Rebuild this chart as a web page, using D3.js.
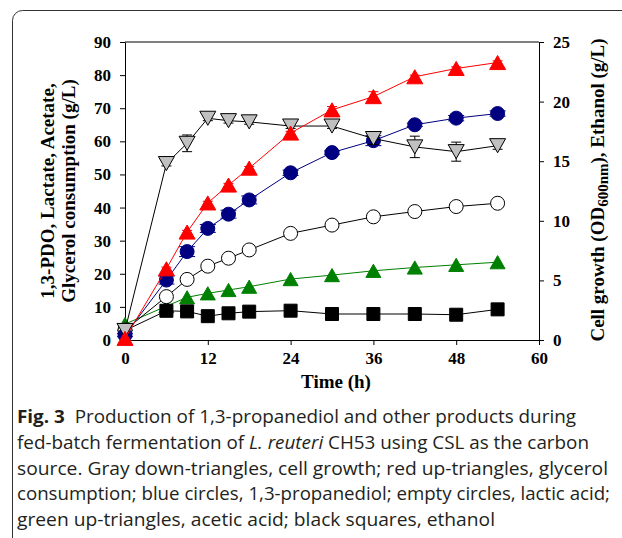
<!DOCTYPE html>
<html>
<head>
<meta charset="utf-8">
<script src="https://cdn.jsdelivr.net/npm/d3@7"></script>
<style>
  body { margin: 0; background: #fff; }
  svg { display: block; }
  .tick text { font-family: "Liberation Serif", "Times New Roman", serif; font-weight: bold; font-size: 17px; fill: #000; }
  .domain, .tick line { stroke: #000; stroke-width: 1; }
</style>
</head>
<body>
<svg id="chart"></svg>
<script>
// sampling times (h)
const times = [0, 6, 9, 12, 15, 18, 24, 30, 36, 42, 48, 54];

// right axis series
const cellGrowth = [0.8, 14.8, 16.5, 18.6, 18.4, 18.3, 17.95, 17.95, 16.9, 16.2, 15.8, 16.3];
const cellGrowthErr = [0, 0.2, 0.7, 0.2, 0.2, 0.2, 0.2, 0.2, 0.5, 0.9, 0.8, 0.3];
const ethanol = [0.8, 2.45, 2.4, 2.0, 2.24, 2.38, 2.46, 2.18, 2.18, 2.18, 2.12, 2.57];

// left axis series
const glycerol = [0.5, 21.5, 32.6, 41.4, 46.8, 51.9, 62.5, 69.5, 73.5, 79.5, 82, 83.8];
const glycerolErr = [0, 0.5, 0.5, 0.5, 0.5, 0.5, 0.5, 1.0, 1.5, 0.5, 0.5, 0.5];
const pdo = [1.5, 18.1, 26.7, 33.7, 38, 42.3, 50.5, 56.6, 60.2, 65, 67, 68.4];
const pdoErr = [0.5, 1.2, 1.5, 1.2, 1.2, 1.2, 0.8, 0.5, 1.5, 0.5, 0.8, 0.8];
const lactate = [3, 13.1, 18.3, 22.3, 24.7, 27.2, 32.2, 34.7, 37.2, 38.8, 40.3, 41.3];
const acetate = [4.8, 10.2, 12.9, 14.1, 15.1, 16.1, 18.4, 19.6, 20.9, 21.9, 22.7, 23.5];

const xTicks = [0, 12, 24, 36, 48, 60];
const leftTicks = [0, 10, 20, 30, 40, 50, 60, 70, 80, 90];
const rightTicks = [0, 5, 10, 15, 20, 25];

const captionLines = [
  [["Fig. 3", "bold"], ["  Production of 1,3-propanediol and other products during", ""]],
  [["fed-batch fermentation of ", ""], ["L. reuteri", "italic"], [" CH53 using CSL as the carbon", ""]],
  [["source. Gray down-triangles, cell growth; red up-triangles, glycerol", ""]],
  [["consumption; blue circles, 1,3-propanediol; empty circles, lactic acid;", ""]],
  [["green up-triangles, acetic acid; black squares, ethanol", ""]]
];
const captionWidths = [559, 572, 591, 593, 478];

const width = 622, height = 538;
const plot = {left: 125, right: 539, top: 42, bottom: 340};

const svg = d3.select("#chart").attr("width", width).attr("height", height);

// panel frame
svg.append("rect")
  .attr("x", 12.5).attr("y", 10.5)
  .attr("width", 640).attr("height", 560)
  .attr("rx", 10)
  .attr("fill", "none").attr("stroke", "#333").attr("stroke-width", 1);

const xScale = d3.scaleLinear().domain([0, 60]).range([plot.left, plot.right]);
const yLeft = d3.scaleLinear().domain([0, 90]).range([plot.bottom, plot.top]);
const yRight = d3.scaleLinear().domain([0, 25]).range([plot.bottom, plot.top]);

// top frame line
svg.append("line")
  .attr("x1", plot.left).attr("x2", plot.right)
  .attr("y1", plot.top).attr("y2", plot.top)
  .attr("stroke", "#000");

svg.append("g")
  .attr("transform", "translate(0," + plot.bottom + ")")
  .call(d3.axisBottom(xScale).tickValues(xTicks).tickSize(5).tickSizeOuter(0).tickPadding(7));

svg.append("g")
  .attr("transform", "translate(" + plot.left + ",0)")
  .call(d3.axisLeft(yLeft).tickValues(leftTicks).tickSize(5).tickSizeOuter(0).tickPadding(9));

svg.append("g")
  .attr("transform", "translate(" + plot.right + ",0)")
  .call(d3.axisRight(yRight).tickValues(rightTicks).tickSize(5).tickSizeOuter(0).tickPadding(9));

// axis titles
const titleFont = (sel) => sel
  .attr("font-family", "'Liberation Serif', 'Times New Roman', serif")
  .attr("font-weight", "bold")
  .attr("font-size", 19)
  .attr("fill", "#000");

svg.append("text").call(titleFont)
  .attr("x", 336).attr("y", 388)
  .attr("text-anchor", "middle")
  .text("Time (h)");

const leftTitle = svg.append("text").call(titleFont)
  .attr("transform", "translate(54,191) rotate(-90)")
  .attr("text-anchor", "middle");
leftTitle.append("tspan").attr("x", 0).attr("y", 0).text("1,3-PDO, Lactate, Acetate,");
leftTitle.append("tspan").attr("x", 0).attr("y", 21).text("Glycerol consumption (g/L)");

const rightTitle = svg.append("text").call(titleFont)
  .attr("transform", "translate(604,190) rotate(-90)")
  .attr("text-anchor", "middle");
rightTitle.append("tspan").text("Cell growth (OD");
rightTitle.append("tspan").attr("font-size", 15).attr("dy", 4).text("600nm");
rightTitle.append("tspan").attr("dy", -4).text("), Ethanol (g/L)");

// marker shapes
const upTri = (s) => {
  const h = s * 0.88;
  return "M0," + (-h / 2) + "L" + (s / 2) + "," + (h / 2) + "L" + (-s / 2) + "," + (h / 2) + "Z";
};
const downTri = (s) => {
  const h = s * 0.88;
  return "M0," + (h / 2) + "L" + (s / 2) + "," + (-h / 2) + "L" + (-s / 2) + "," + (-h / 2) + "Z";
};
const square = (s) => "M" + (-s / 2) + "," + (-s / 2) + "h" + s + "v" + s + "h" + (-s) + "Z";
const circle = (s) => {
  const r = s / 2;
  return "M" + r + ",0A" + r + "," + r + " 0 1,1 " + (-r) + ",0A" + r + "," + r + " 0 1,1 " + r + ",0Z";
};

const drawSeries = (values, yScale, opts) => {
  const pts = times.map((t, i) => ({t: t, v: values[i], e: opts.err ? opts.err[i] : 0}));
  const g = svg.append("g");
  g.append("path")
    .datum(pts)
    .attr("fill", "none")
    .attr("stroke", opts.line)
    .attr("stroke-width", 1)
    .attr("d", d3.line().x((d) => xScale(d.t)).y((d) => yScale(d.v)));

  const eb = g.selectAll(".err").data(pts.filter((d) => d.e > 0)).enter().append("g")
    .attr("stroke", opts.line).attr("stroke-width", 1);
  eb.append("line")
    .attr("x1", (d) => xScale(d.t)).attr("x2", (d) => xScale(d.t))
    .attr("y1", (d) => yScale(d.v - d.e)).attr("y2", (d) => yScale(d.v + d.e));
  [-1, 1].forEach((sgn) => {
    eb.append("line")
      .attr("x1", (d) => xScale(d.t) - opts.cap / 2).attr("x2", (d) => xScale(d.t) + opts.cap / 2)
      .attr("y1", (d) => yScale(d.v + sgn * d.e)).attr("y2", (d) => yScale(d.v + sgn * d.e));
  });

  g.selectAll(".mk").data(pts).enter().append("path")
    .attr("transform", (d) => "translate(" + xScale(d.t) + "," + yScale(d.v) + ")")
    .attr("d", opts.shape(opts.size))
    .attr("fill", opts.fill)
    .attr("stroke", opts.stroke)
    .attr("stroke-width", 1);
};

drawSeries(acetate, yLeft, {line: "#008000", fill: "#008000", stroke: "#008000", shape: upTri, size: 15, cap: 10});
drawSeries(ethanol, yRight, {line: "#000", fill: "#000", stroke: "#000", shape: square, size: 13, cap: 10});
drawSeries(lactate, yLeft, {line: "#000", fill: "#fff", stroke: "#000", shape: circle, size: 14, cap: 10});
drawSeries(pdo, yLeft, {line: "#000080", fill: "#000080", stroke: "#000080", shape: circle, size: 14, cap: 16, err: pdoErr});
drawSeries(cellGrowth, yRight, {line: "#000", fill: "#c0c0c0", stroke: "#000", shape: downTri, size: 16, cap: 10, err: cellGrowthErr});
drawSeries(glycerol, yLeft, {line: "#ff0000", fill: "#ff0000", stroke: "#ff0000", shape: upTri, size: 16, cap: 10, err: glycerolErr});

// caption
captionLines.forEach((parts, i) => {
  const t = svg.append("text")
    .attr("x", 17).attr("y", 423 + i * 25.8)
    .attr("font-family", "'Open Sans', 'Noto Sans', sans-serif")
    .attr("font-size", 18)
    .attr("fill", "#231f20")
    .attr("textLength", captionWidths[i])
    .attr("lengthAdjust", "spacingAndGlyphs")
    .attr("xml:space", "preserve");
  parts.forEach((p) => {
    const ts = t.append("tspan").text(p[0]);
    if (p[1] === "bold") ts.attr("font-weight", "bold");
    if (p[1] === "italic") ts.attr("font-style", "italic");
  });
});
</script>
</body>
</html>
